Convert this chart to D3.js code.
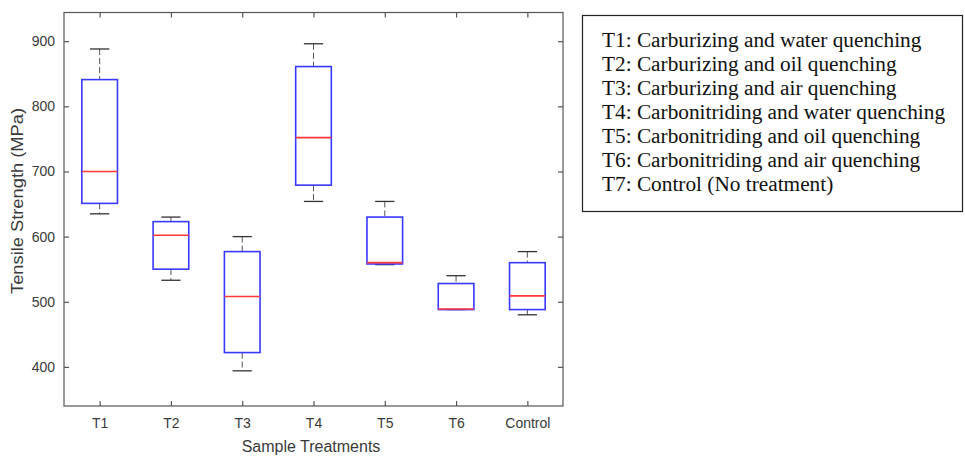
<!DOCTYPE html>
<html><head><meta charset="utf-8">
<script src="https://cdn.jsdelivr.net/npm/d3@7"></script>
<style>body{margin:0;background:#fff;} svg{display:block;}</style>
</head><body>
<svg id="c" width="965" height="457"></svg>
<script>
const categories = ["T1","T2","T3","T4","T5","T6","Control"];
const lowerWhisker = [635, 533, 394, 654, 557, 488, 480];
const q1Values     = [651, 550, 422, 679, 558, 488, 488];
const medianValues = [700, 602, 508, 752, 560, 489, 509];
const q3Values     = [841, 623, 577, 861, 630, 528, 560];
const upperWhisker = [888, 630, 600, 896, 654, 540, 577];
const yTicks = [400, 500, 600, 700, 800, 900];
const legendLines = [
  "T1: Carburizing and water quenching",
  "T2: Carburizing and oil quenching",
  "T3: Carburizing and air quenching",
  "T4: Carbonitriding and water quenching",
  "T5: Carbonitriding and oil quenching",
  "T6: Carbonitriding and air quenching",
  "T7: Control (No treatment)"
];

const svg = d3.select("#c");
const L = 64, R = 563, T = 12.5, B = 406;
const x = d3.scaleLinear().domain([0.5, categories.length + 0.5]).range([L, R]);
const y = d3.scaleLinear().domain([340, 944]).range([B, T]);
const bw = 0.5, cw = 0.27;
const axisColor = "#555";
const textColor = "#3a3a3a";
const sans = "Liberation Sans, Arial, sans-serif";

svg.append("rect").attr("x", L).attr("y", T).attr("width", R - L).attr("height", B - T)
  .attr("fill", "none").attr("stroke", axisColor).attr("stroke-width", 1.2);

const pos = categories.map((d, i) => i + 1);
const xb = svg.append("g").attr("transform", `translate(0,${B})`)
  .call(d3.axisBottom(x).tickValues(pos).tickFormat((d) => categories[d - 1]).tickSizeInner(-5).tickSizeOuter(0).tickPadding(12));
const xt = svg.append("g").attr("transform", `translate(0,${T})`)
  .call(d3.axisTop(x).tickValues(pos).tickFormat("").tickSizeInner(-5).tickSizeOuter(0));
const yl = svg.append("g").attr("transform", `translate(${L},0)`)
  .call(d3.axisLeft(y).tickValues(yTicks).tickSizeInner(-5).tickSizeOuter(0).tickPadding(9));
const yr = svg.append("g").attr("transform", `translate(${R},0)`)
  .call(d3.axisRight(y).tickValues(yTicks).tickFormat("").tickSizeInner(-5).tickSizeOuter(0));
[xb, xt, yl, yr].forEach(g => {
  g.select(".domain").remove();
  g.selectAll(".tick line").attr("stroke", axisColor).attr("stroke-width", 1.2);
  g.selectAll(".tick text").attr("fill", textColor)
    .style("font-family", sans).style("font-size", "14px");
});

const data = categories.map((c, i) => ({
  p: i + 1, lo: lowerWhisker[i], q1: q1Values[i], med: medianValues[i], q3: q3Values[i], hi: upperWhisker[i]
}));
const g = svg.append("g");
data.forEach(d => {
  const cx = x(d.p);
  g.append("line").attr("x1", cx).attr("x2", cx).attr("y1", y(d.hi)).attr("y2", y(d.q3))
    .attr("stroke", "#555").attr("stroke-width", 1).attr("stroke-dasharray", "6,3");
  g.append("line").attr("x1", cx).attr("x2", cx).attr("y1", y(d.q1)).attr("y2", y(d.lo))
    .attr("stroke", "#555").attr("stroke-width", 1).attr("stroke-dasharray", "6,3");
  g.append("line").attr("x1", x(d.p - cw / 2)).attr("x2", x(d.p + cw / 2)).attr("y1", y(d.hi)).attr("y2", y(d.hi))
    .attr("stroke", "#333").attr("stroke-width", 1.3);
  g.append("line").attr("x1", x(d.p - cw / 2)).attr("x2", x(d.p + cw / 2)).attr("y1", y(d.lo)).attr("y2", y(d.lo))
    .attr("stroke", "#333").attr("stroke-width", 1.3);
  g.append("rect").attr("x", x(d.p - bw / 2)).attr("width", x(d.p + bw / 2) - x(d.p - bw / 2))
    .attr("y", y(d.q3)).attr("height", y(d.q1) - y(d.q3))
    .attr("fill", "none").attr("stroke", "#3838ff").attr("stroke-width", 1.6);
  g.append("line").attr("x1", x(d.p - bw / 2)).attr("x2", x(d.p + bw / 2)).attr("y1", y(d.med)).attr("y2", y(d.med))
    .attr("stroke", "#ff3838").attr("stroke-width", 1.6);
});

svg.append("text").attr("x", 311).attr("y", 452).attr("text-anchor", "middle")
  .attr("fill", textColor).style("font-family", sans).style("font-size", "16px")
  .text("Sample Treatments");
svg.append("text").attr("transform", `translate(23,201) rotate(-90)`).attr("text-anchor", "middle")
  .attr("fill", textColor).style("font-family", sans).style("font-size", "16px")
  .attr("textLength", 186).attr("lengthAdjust", "spacingAndGlyphs")
  .text("Tensile Strength (MPa)");

const lg = svg.append("g");
lg.append("rect").attr("x", 582.5).attr("y", 15.5).attr("width", 380).attr("height", 196)
  .attr("fill", "none").attr("stroke", "#222").attr("stroke-width", 1.2);
lg.selectAll("text").data(legendLines).join("text")
  .attr("x", 602).attr("y", (d, i) => 47 + i * 24)
  .attr("fill", "#111").style("font-family", "Liberation Serif, Times New Roman, serif").style("font-size", "21.3px")
  .text(d => d);
</script>
</body></html>
